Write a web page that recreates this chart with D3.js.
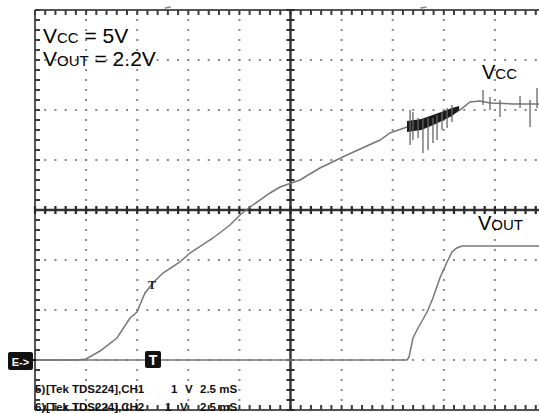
<!DOCTYPE html>
<html><head><meta charset="utf-8">
<script src="https://cdn.jsdelivr.net/npm/d3@7"></script>
<style>body{margin:0;background:#fff}svg{display:block}</style>
</head><body>
<svg id="c" width="539" height="413"></svg>
<script>
// ---- data (time in ms, volts) ----
const vccTime  = [0, 2.05, 2.5, 3.18, 4.01, 4.65, 4.99, 5.38, 5.77, 6.26, 7.09, 7.58, 8.71, 9.54, 10.03, 10.52, 11.50, 11.99, 12.96, 13.94, 15.26, 16.88, 17.37, 18.20, 19.32, 20.16, 20.79, 21.28, 21.77, 22.26, 23.38, 24.66];
const vccVolts = [0, 0, 0.02, 0.18, 0.44, 0.84, 0.96, 1.34, 1.54, 1.74, 1.96, 2.14, 2.44, 2.70, 2.90, 3.06, 3.34, 3.46, 3.60, 3.84, 4.10, 4.40, 4.54, 4.66, 4.74, 4.86, 5.00, 5.16, 5.18, 5.14, 5.12, 5.12];
const voutTime  = [0, 18.20, 18.30, 18.49, 18.74, 19.18, 19.47, 19.81, 20.16, 20.40, 20.64, 20.89, 24.66];
const voutVolts = [0, 0, 0.06, 0.44, 0.64, 0.96, 1.24, 1.64, 1.96, 2.16, 2.24, 2.28, 2.28];
// noise spikes on Vcc: time, low, high
const spikeTime = [18.35, 18.49, 18.74, 18.98, 19.23, 19.47, 19.67, 19.91, 20.16, 20.40, 21.92, 22.26, 22.75, 23.73, 24.22, 24.56];
const spikeLow  = [4.30, 4.40, 4.44, 4.14, 4.20, 4.34, 4.40, 4.60, 4.64, 4.76, 5.10, 5.00, 4.86, 5.04, 4.66, 5.04];
const spikeHigh = [5.00, 4.96, 4.84, 4.84, 4.84, 4.84, 4.90, 4.96, 5.04, 5.10, 5.40, 5.26, 5.20, 5.28, 5.20, 5.44];
// dense noise band
const bandTime = [18.2, 18.9, 19.6, 20.4, 20.75];
const bandLow  = [4.56, 4.60, 4.72, 4.88, 5.00];
const bandHigh = [4.78, 4.82, 4.92, 5.04, 5.08];
const footerLine1 = ["5)", "[Tek TDS224],CH1", "1", "V", "2.5 mS"];
const footerLine2 = ["6)", "[Tek TDS224],CH2", "1", "V", "2.5 mS"];

const svg = d3.select("#c");
const x = d3.scaleLinear().domain([0, 25]).range([35, 546]);
const y = d3.scaleLinear().domain([-1, 7]).range([410, 10]);
const majorT = d3.range(0, 25.001, 2.5);
const majorV = d3.range(-1, 7.001, 1);
const minorT = d3.range(0, 25.001, 0.5);
const minorV = d3.range(-1, 7.001, 0.2);

const L = (x1, y1, x2, y2, c, w) => svg.append("line").attr("x1", x1).attr("y1", y1).attr("x2", x2).attr("y2", y2).attr("stroke", c).attr("stroke-width", w);

// grid dots
const dc = "#888";
majorT.filter(t => t > 0 && Math.abs(t - 12.5) > 0.01 && t < 25).forEach(t => {
  minorV.forEach(v => svg.append("rect").attr("x", x(t) - 1).attr("y", y(v) - 1)
    .attr("width", 2).attr("height", 2).attr("fill", dc));
});
majorV.filter(v => v > -1 && v !== 3 && v < 7).forEach(v => {
  minorT.forEach(t => svg.append("rect").attr("x", x(t) - 1).attr("y", y(v) - 1)
    .attr("width", 2).attr("height", 2).attr("fill", dc));
});

// borders with tick marks
const bc = "#555";
L(x(0), y(7), x(0), y(-1), bc, 2);
L(x(0), y(7), x(25), y(7), bc, 2);
L(x(0), y(-1), x(25), y(-1), bc, 2);
svg.append("path").attr("fill", "none").attr("stroke", "#3c3c3c").attr("stroke-width", 2)
  .attr("d", minorT.map(t => `M${x(t)},${y(7)}v5M${x(t)},${y(-1)}v-5`).join("") +
             minorV.map(v => `M${x(0)},${y(v)}h5`).join(""));

// centre axes with tick marks
const cc = "#333";
L(x(0), y(3), x(25), y(3), cc, 2.4);
L(x(12.5), y(7), x(12.5), y(-1), cc, 2.4);
svg.append("path").attr("fill", "none").attr("stroke", "#2a2a2a").attr("stroke-width", 2.2)
  .attr("d", minorT.map(t => `M${x(t)},${y(3) - 4}v8`).join("") +
             minorV.map(v => `M${x(12.5) - 4},${y(v)}h8`).join(""));

// top position marks
svg.append("path").attr("d", `M${x(6.5)-3},${y(7)-2}L${x(6.5)+3},${y(7)-3}`).attr("stroke", "#888").attr("stroke-width", 1.5);
svg.append("path").attr("d", `M${x(19)-3},${y(7)-2}L${x(19)+3},${y(7)-3}`).attr("stroke", "#888").attr("stroke-width", 1.5);

// traces
const line = d3.line().x(d => x(d[0])).y(d => y(d[1]));
const tc = "#777";
svg.append("path").attr("d", line(d3.zip(voutTime, voutVolts))).attr("fill", "none").attr("stroke", tc).attr("stroke-width", 1.5);
svg.append("path").attr("d", line(d3.zip(vccTime, vccVolts))).attr("fill", "none").attr("stroke", tc).attr("stroke-width", 1.5);
const area = d3.area().x(d => x(d[0])).y0(d => y(d[1])).y1(d => y(d[2]));
svg.append("path").attr("d", area(d3.zip(bandTime, bandLow, bandHigh))).attr("fill", "#1a1a1a");
spikeTime.forEach((t, i) => L(x(t), y(spikeLow[i]), x(t), y(spikeHigh[i]), "#666", 1.3));

// labels
const font = "'Liberation Sans', Arial, sans-serif";
function label(xp, yp, parts, big, small) {
  const t = svg.append("text").attr("x", xp).attr("y", yp).attr("font-family", font).attr("fill", "#000");
  parts.forEach(p => t.append("tspan").attr("font-size", p[1] ? small : big).text(p[0]));
}
label(43, 43, [["V", 0], ["CC", 1], [" = 5V", 0]], 21, 15);
label(43, 66, [["V", 0], ["OUT", 1], [" = 2.2V", 0]], 21, 15);
label(482, 79, [["V", 0], ["CC", 1]], 20, 15);
label(478, 230, [["V", 0], ["OUT", 1]], 20, 15);

// ground marker
svg.append("rect").attr("x", 8).attr("y", 352).attr("width", 25).attr("height", 18).attr("rx", 2).attr("fill", "#111");
svg.append("text").attr("x", 20.5).attr("y", 365.5).attr("text-anchor", "middle").attr("font-family", font)
  .attr("font-weight", "bold").attr("font-size", 11).attr("fill", "#fff").text("E->");
L(33, y(0), 36, y(0), "#111", 2);
// trigger markers
svg.append("rect").attr("x", 145).attr("y", 351).attr("width", 16).attr("height", 17).attr("rx", 2).attr("fill", "#111");
svg.append("text").attr("x", 153).attr("y", 365).attr("text-anchor", "middle").attr("font-family", font)
  .attr("font-weight", "bold").attr("font-size", 14).attr("fill", "#fff").text("T");
svg.append("text").attr("x", 152).attr("y", 289).attr("text-anchor", "middle").attr("font-family", "'Liberation Serif', serif")
  .attr("font-weight", "bold").attr("font-size", 12).attr("fill", "#222").text("T");

// footer
const fx1 = [35, 46, 171, 185, 200];
const fx2 = [35, 46, 165, 180, 200];
function footer(arr, xs, yp) {
  arr.forEach((s, i) => svg.append("text").attr("x", xs[i]).attr("y", yp).attr("font-family", font)
    .attr("font-weight", "bold").attr("font-size", 11.5).attr("fill", "#111").text(s));
}
footer(footerLine1, fx1, 393);
footer(footerLine2, fx2, 411);
</script>
</body></html>
